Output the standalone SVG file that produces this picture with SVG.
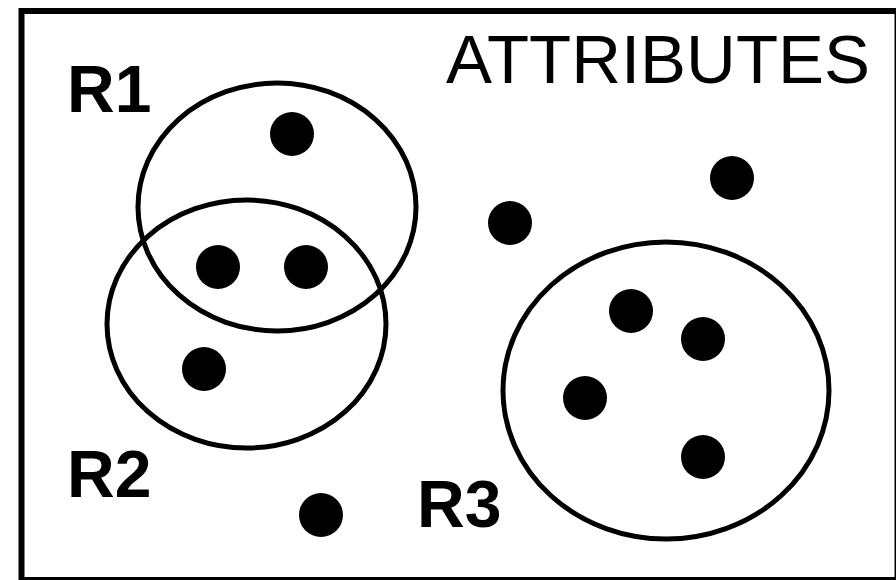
<svg xmlns="http://www.w3.org/2000/svg" width="896" height="580" viewBox="0 0 896 580">
<style>
.ring{fill:none;stroke:#000;stroke-width:5}
.dot{fill:#000}
.lbl{font-family:"Liberation Sans",Arial,sans-serif;font-weight:bold;font-size:66px;fill:#000}
.title{font-family:"Liberation Sans",Arial,sans-serif;font-size:68px;fill:#000}
</style>
<rect width="896" height="580" fill="#fff"/>
<rect x="21.5" y="11" width="876" height="569" fill="none" stroke="#000" stroke-width="6"/>
<g id="title"><text class="title" x="446" y="83" textLength="424" lengthAdjust="spacingAndGlyphs">ATTRIBUTES</text></g>
<g id="R1">
<ellipse class="ring" cx="277" cy="207" rx="139" ry="124"/>
<text class="lbl" x="67" y="112">R1</text>
</g>
<g id="R2">
<ellipse class="ring" cx="246.5" cy="324" rx="139.5" ry="124"/>
<text class="lbl" x="67" y="497">R2</text>
</g>
<g id="R3">
<ellipse class="ring" cx="666" cy="390.5" rx="163" ry="148.5"/>
<text class="lbl" x="417" y="527">R3</text>
</g>
<g id="dots">
<circle class="dot" cx="292" cy="134" r="22"/>
<circle class="dot" cx="218" cy="267" r="22"/>
<circle class="dot" cx="306" cy="267" r="22"/>
<circle class="dot" cx="204" cy="369" r="22"/>
<circle class="dot" cx="321" cy="515" r="22"/>
<circle class="dot" cx="510" cy="223" r="22"/>
<circle class="dot" cx="732" cy="178" r="22"/>
<circle class="dot" cx="631" cy="311" r="22"/>
<circle class="dot" cx="703" cy="339" r="22"/>
<circle class="dot" cx="585" cy="398" r="22"/>
<circle class="dot" cx="703" cy="457" r="22"/>
</g>
<g id="connectors"/>
</svg>
